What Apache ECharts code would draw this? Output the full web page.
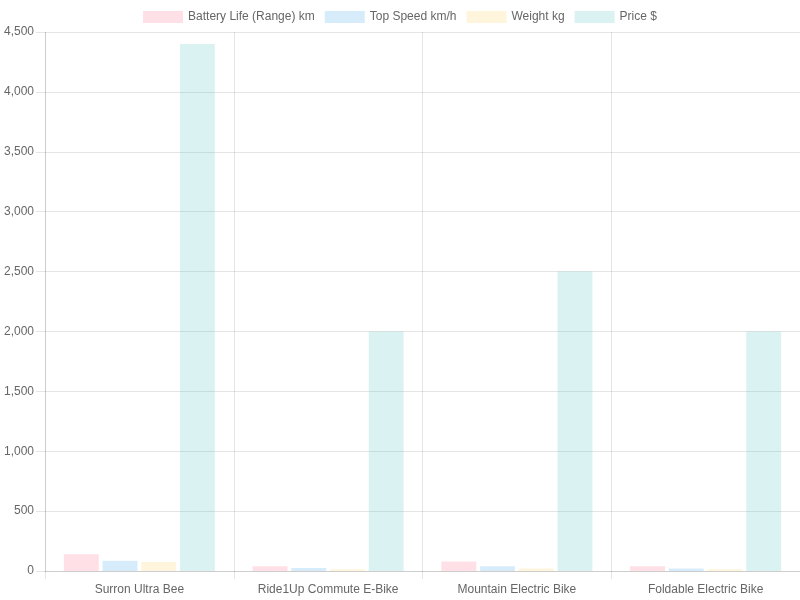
<!DOCTYPE html>
<html>
<head>
<meta charset="utf-8">
<script src="https://cdn.jsdelivr.net/npm/echarts@6/dist/echarts.min.js"></script>
<style>
  html, body { margin: 0; padding: 0; background: #fff; }
  #chart { width: 800px; height: 600px; }
</style>
</head>
<body>
<div id="chart"></div>
<script>
// 车型
const bikes = ['Surron Ultra Bee', 'Ride1Up Commute E-Bike', 'Mountain Electric Bike', 'Foldable Electric Bike'];
const batteryRange = [140, 40, 80, 40];
const topSpeed = [85, 25, 40, 20];
const weight = [75, 15, 20, 15];
const price = [4400, 2000, 2500, 2000];

const seriesNames = ['Battery Life (Range) km', 'Top Speed km/h', 'Weight kg', 'Price $'];
const seriesColors = ['rgba(255, 99, 132, 0.2)', 'rgba(54, 162, 235, 0.2)', 'rgba(255, 206, 86, 0.2)', 'rgba(75, 192, 192, 0.2)'];
const seriesData = [batteryRange, topSpeed, weight, price];

const yMin = 0;
const yMax = 4500;
const yStep = 500;

const myChart = echarts.init(document.getElementById('chart'));

const gridColor = 'rgba(0, 0, 0, 0.1)';
const fontFamily = '"Liberation Sans", Arial, sans-serif';

const option = {
  animation: false,
  backgroundColor: '#fff',
  legend: {
    top: 6,
    left: 'center',
    itemWidth: 40,
    itemHeight: 12,
    itemGap: 10,
    icon: 'rect',
    textStyle: { color: '#666', fontSize: 12, fontFamily: fontFamily }
  },
  grid: {
    left: 45,
    right: 0,
    top: 32,
    bottom: 29
  },
  xAxis: {
    type: 'category',
    data: bikes,
    axisLine: { lineStyle: { color: gridColor } },
    axisTick: { show: true, length: 8, lineStyle: { color: gridColor } },
    splitLine: { show: true, lineStyle: { color: gridColor } },
    axisLabel: { color: '#666', fontSize: 12, fontFamily: fontFamily, margin: 13 }
  },
  yAxis: {
    type: 'value',
    min: yMin,
    max: yMax,
    interval: yStep,
    axisLine: { show: true, lineStyle: { color: gridColor } },
    axisTick: { show: true, length: 9, lineStyle: { color: gridColor } },
    splitLine: { lineStyle: { color: gridColor } },
    axisLabel: {
      color: '#666',
      fontSize: 12,
      fontFamily: fontFamily,
      margin: 11,
      formatter: v => v.toLocaleString('en-US')
    }
  },
  series: seriesNames.map((name, i) => ({
    name: name,
    type: 'bar',
    data: seriesData[i],
    barCategoryGap: '20%',
    barGap: '11%',
    itemStyle: { color: seriesColors[i] }
  }))
};

myChart.setOption(option);
</script>
</body>
</html>
